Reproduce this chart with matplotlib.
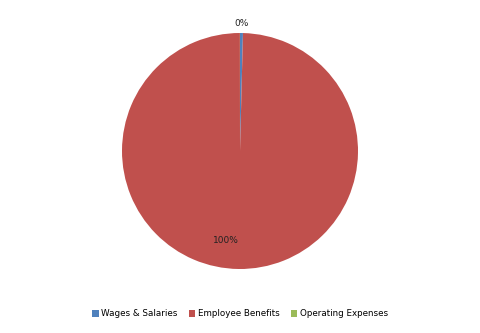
import numpy as np
import matplotlib.pyplot as plt

categories = ["Wages & Salaries", "Employee Benefits", "Operating Expenses"]
values = [0.4, 99.59, 0.01]
labels = ["0%", "100%", None]
colors = ["#4F81BD", "#C0504D", "#9BBB59"]

fig = plt.figure(figsize=(4.8, 3.33), dpi=100)
ax = fig.add_axes([0.5 - 118/480, (182 - 118)/333, 236/480, 236/333])
wedges, _ = ax.pie(values, colors=colors, startangle=90, counterclock=False,
                   wedgeprops=dict(linewidth=0))
ax.set_aspect("equal")
ax.set_xlim(-1, 1)
ax.set_ylim(-1, 1)

# label radius per slice (outside for the tiny one, inside for the big one)
label_r = [1.08, 0.76, None]
for w, lab, r in zip(wedges, labels, label_r):
    if lab is None:
        continue
    ang = np.deg2rad((w.theta1 + w.theta2) / 2)
    x, y = r * np.cos(ang), r * np.sin(ang)
    if lab == "100%":
        x -= 0.11
    ax.text(x, y, lab, ha="center", va="center", fontsize=6.5, color="#222222",
            clip_on=False)

ax.legend(wedges, categories, loc="center", ncol=3, frameon=False, fontsize=6.3,
          handlelength=0.7, handleheight=0.7, handletextpad=0.3, columnspacing=1.3,
          bbox_to_anchor=(0.5, 1 - 314/333), bbox_transform=fig.transFigure)

fig.savefig("out.png", dpi=100)
